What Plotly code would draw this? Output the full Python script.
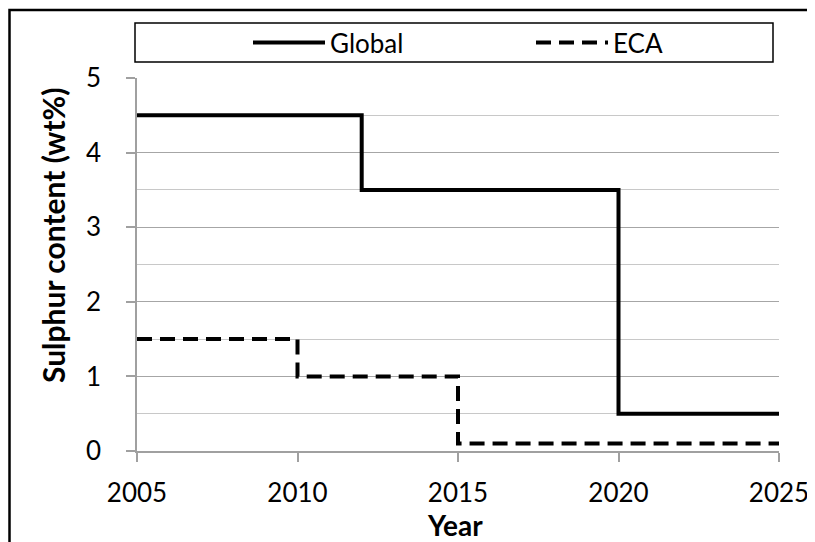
import plotly.graph_objects as go

# Data
global_years = [2005, 2012, 2020, 2025]
global_values = [4.5, 3.5, 0.5, 0.5]
eca_years = [2005, 2010, 2015, 2025]
eca_values = [1.5, 1.0, 0.1, 0.1]
x_ticks = [2005, 2010, 2015, 2020, 2025]
y_ticks = [0, 1, 2, 3, 4, 5]

OFF = 8  # page body margin
W, H = 815 - OFF, 542 - OFF
L, T = 137 - OFF, 78 - OFF
R = W - (779 - OFF)
B = H - (451 - OFF)
pw, ph = W - L - R, H - T - B

def px_x(p):
    # p in page pixels
    return (p - OFF - L) / pw

def px_y(p):
    return (H - B - (p - OFF)) / ph

FONT = "Lato"

fig = go.Figure()
fig.add_trace(go.Scatter(
    x=global_years, y=global_values, mode="lines", name="Global",
    line=dict(color="black", width=4, shape="hv"),
))
fig.add_trace(go.Scatter(
    x=eca_years, y=eca_values, mode="lines", name="ECA",
    line=dict(color="black", width=4, shape="hv", dash="15px,8px"),
))

fig.update_layout(
    width=W, height=H,
    margin=dict(l=L, r=R, t=T, b=B, autoexpand=False),
    paper_bgcolor="white", plot_bgcolor="white",
    font=dict(family=FONT, size=26, color="black"),
    showlegend=True,
    legend=dict(
        orientation="h", x=px_x(248), xanchor="left",
        y=px_y(42.5), yanchor="middle",
        bgcolor="rgba(0,0,0,0)", borderwidth=0,
        font=dict(family=FONT, size=26, color="black"),
        entrywidth=196, entrywidthmode="pixels",
        itemwidth=72,
    ),
    shapes=[
        dict(type="rect", xref="paper", yref="paper",
             x0=px_x(135), x1=px_x(773), y0=px_y(62), y1=px_y(23),
             line=dict(color="black", width=1.5), fillcolor="rgba(0,0,0,0)"),
        dict(type="rect", xref="paper", yref="paper",
             x0=px_x(9.5), x1=px_x(830), y0=px_y(560), y1=px_y(10),
             line=dict(color="black", width=2.5), fillcolor="rgba(0,0,0,0)"),
    ],
    annotations=[
        dict(text="<b>Sulphur content (wt%)</b>", xref="paper", yref="paper",
             x=px_x(53), y=px_y(236), xanchor="center", yanchor="middle",
             textangle=-90, showarrow=False,
             font=dict(family=FONT, size=30, color="black")),
        dict(text="<b>Year</b>", xref="paper", yref="paper",
             x=px_x(455), y=px_y(525), xanchor="center", yanchor="middle",
             showarrow=False,
             font=dict(family=FONT, size=28, color="black")),
    ],
)

fig.update_xaxes(
    range=[2005, 2025], tickvals=x_ticks, ticktext=[str(v) for v in x_ticks],
    showgrid=False, zeroline=False,
    showline=True, linecolor="#a0a0a0", linewidth=1.5,
    ticks="outside", ticklen=9, tickcolor="#a0a0a0", tickwidth=1.5,
    ticklabelstandoff=9,
    tickfont=dict(family=FONT, size=26, color="black"),
)
fig.update_yaxes(
    range=[0, 5], tickvals=y_ticks, ticktext=[str(v) for v in y_ticks],
    showgrid=True, gridcolor="#a6a6a6", gridwidth=1,
    minor=dict(dtick=0.5, showgrid=True, gridcolor="#c8c8c8", gridwidth=1, ticks=""),
    zeroline=False,
    showline=True, linecolor="#a0a0a0", linewidth=1.5,
    ticks="outside", ticklen=9, tickcolor="#a0a0a0", tickwidth=1.5,
    ticklabelstandoff=20,
    tickfont=dict(family=FONT, size=26, color="black"),
)

fig.write_html("out.html")
